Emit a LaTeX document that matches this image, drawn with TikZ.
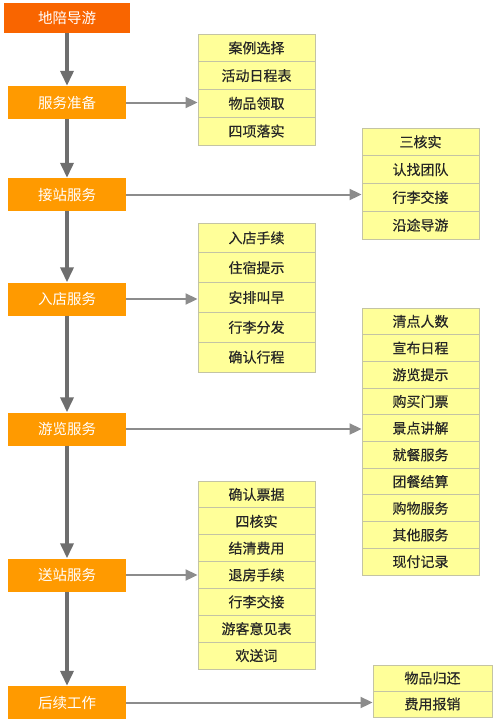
\documentclass[tikz,border=0pt]{standalone}
\usepackage{fontspec}
\setmainfont{Noto Sans CJK SC}
\newfontfamily\itemfont[FakeBold=0.4]{Noto Sans CJK SC}
\usetikzlibrary{arrows.meta}

\definecolor{leadred}{HTML}{F96500}
\definecolor{stageorange}{HTML}{FF9A00}
\definecolor{itemyellow}{HTML}{FFFF99}
\definecolor{itemedge}{HTML}{C4C4A4}
\definecolor{flowgray}{HTML}{6E6E6E}
\definecolor{branchgray}{HTML}{8C8C8C}

\tikzset{
  stage/.style={fill=stageorange, text=white, minimum width=118pt, minimum height=33pt,
    inner sep=0pt, font=\fontsize{14.5}{16}\selectfont},
  item/.style={fill=itemyellow, draw=itemedge, line width=0.9pt, minimum width=117pt,
    inner sep=0pt, text=black!85, font=\itemfont\fontsize{14}{16}\selectfont},
  trunk/.style={draw=flowgray, line width=3.5pt, -{Triangle[length=15pt,width=13pt]}},
  branch/.style={draw=branchgray, line width=2pt, -{Triangle[length=12pt,width=11pt]}}
}

\begin{document}
\begin{tikzpicture}[x=1pt, y=-1pt]
\useasboundingbox (0,0) rectangle (496,724);

% main stages
\node[stage, fill=leadred, minimum width=126pt, minimum height=30pt] (lead) at (67,18) {地陪导游};
\node[stage] (prep) at (67,102.5) {服务准备};
\node[stage] (pickup) at (67,194.5) {接站服务};
\node[stage] (hotel) at (67,299) {入店服务};
\node[stage] (tour) at (67,429) {游览服务};
\node[stage] (sendoff) at (67,575) {送站服务};
\node[stage] (after) at (67,702.5) {后续工作};

\draw[trunk] (lead) -- (prep);
\draw[trunk] (prep) -- (pickup);
\draw[trunk] (pickup) -- (hotel);
\draw[trunk] (hotel) -- (tour);
\draw[trunk] (tour) -- (sendoff);
\draw[trunk] (sendoff) -- (after);

% task lists
\foreach \label [count=\i] in {案例选择,活动日程表,物品领取,四项落实}
  \node[item, minimum height=27.75pt] (prep\i) at (256.5,{34+27.75*(\i-0.5)}) {\label};
\foreach \label [count=\i] in {三核实,认找团队,行李交接,沿途导游}
  \node[item, minimum height=27.75pt] (pickup\i) at (420.5,{128+27.75*(\i-0.5)}) {\label};
\foreach \label [count=\i] in {入店手续,住宿提示,安排叫早,行李分发,确认行程}
  \node[item, minimum height=29.8pt] (hotel\i) at (256.5,{223+29.8*(\i-0.5)}) {\label};
\foreach \label [count=\i] in {清点人数,宣布日程,游览提示,购买门票,景点讲解,就餐服务,团餐结算,购物服务,其他服务,现付记录}
  \node[item, minimum height=26.7pt] (tour\i) at (420.5,{308+26.7*(\i-0.5)}) {\label};
\foreach \label [count=\i] in {确认票据,四核实,结清费用,退房手续,行李交接,游客意见表,欢送词}
  \node[item, minimum height=26.86pt] (sendoff\i) at (256.5,{481+26.86*(\i-0.5)}) {\label};
\foreach \label [count=\i] in {物品归还,费用报销}
  \node[item, minimum width=119pt, minimum height=26pt] (after\i) at (432.5,{665+26*(\i-0.5)}) {\label};

\draw[branch] (prep.east) -- (prep.east -| prep1.west);
\draw[branch] (pickup.east) -- (pickup.east -| pickup1.west);
\draw[branch] (hotel.east) -- (hotel.east -| hotel1.west);
\draw[branch] (tour.east) -- (tour.east -| tour1.west);
\draw[branch] (sendoff.east) -- (sendoff.east -| sendoff1.west);
\draw[branch] (after.east) -- (after.east -| after1.west);
\end{tikzpicture}
\end{document}
